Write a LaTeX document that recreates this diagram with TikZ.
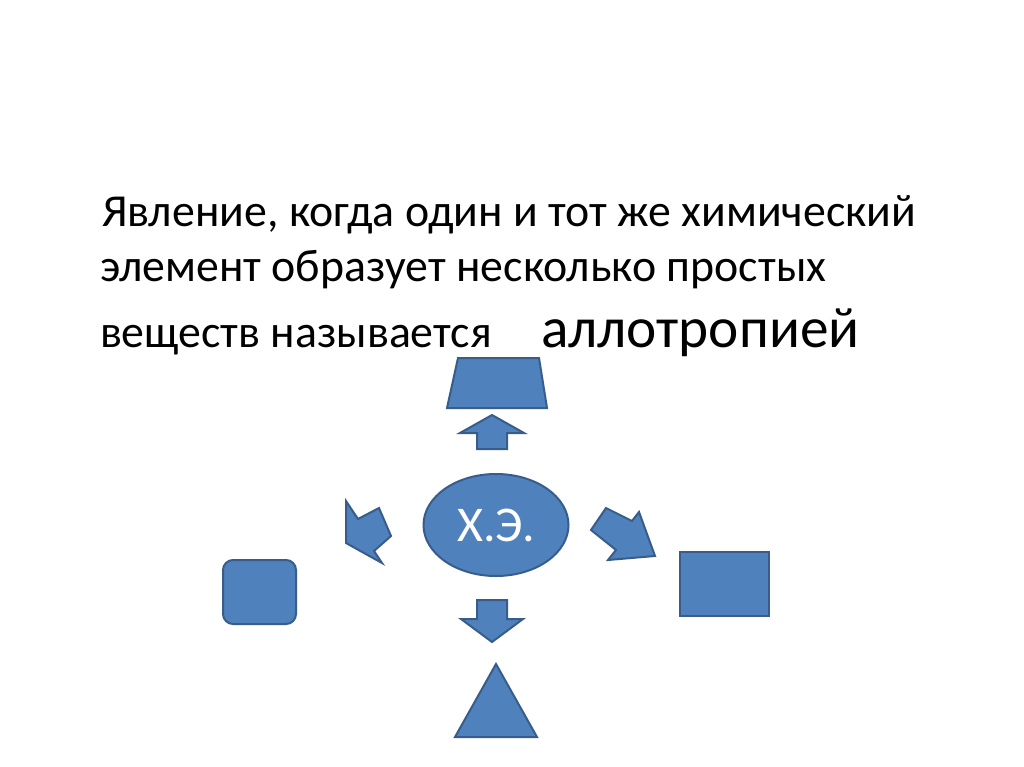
\documentclass[tikz,border=0pt]{standalone}
\usepackage{fontspec}
\setmainfont{Carlito}
\usepackage{tikz}
\usetikzlibrary{shapes.geometric}
\definecolor{xefill}{HTML}{4F81BD}
\definecolor{xeline}{HTML}{385D8A}

\begin{document}
\begin{tikzpicture}[x=1pt,y=-1pt, shp/.style={fill=xefill,draw=xeline,line width=2pt,line join=miter}, txt/.style={anchor=base west,inner sep=0pt,outer sep=0pt,font=\fontsize{45.8}{52}\selectfont}]
\useasboundingbox[fill=white] (0,0) rectangle (1024,767);
% text
\node[txt] (l1) at (102,226) {Явление, когда один и тот же химический}; \node[txt] (l2) at (100,281) {элемент образует несколько простых}; \node[txt] (l3) at (100,347) {веществ называется}; \node[txt,font=\fontsize{57.3}{64}\selectfont] (allo) at (541,347) {аллотропией};
% shapes
\node[shp,ellipse,inner sep=0pt,outer sep=0pt,minimum width=145pt,minimum height=102pt,text=white,font=\fontsize{50}{54}\selectfont] (xe) at (496,525) {Х.Э.};
\node[shp,rounded corners=10pt,inner sep=0pt,minimum width=73pt,minimum height=64pt] (rsq) at (259.5,592) {}; \node[shp,inner sep=0pt,minimum width=89pt,minimum height=64pt] (rect) at (724.5,584) {};
\draw[shp] (458,358) -- (539,358) -- (547,408) -- (447,408) -- cycle; \draw[shp] (496,664) -- (537,737) -- (455,737) -- cycle;
% block arrows
\draw[shp] (492,415) -- (524,433) -- (507,433) -- (507,449) -- (477,449) -- (477,433) -- (460,433) -- cycle; \draw[shp] (492,642) -- (523,619) -- (507,619) -- (507,600) -- (477,600) -- (477,619) -- (461,619) -- cycle;
\draw[shp] (346,543) -- (346,501) -- (358,519) -- (379,508) -- (391,536) -- (374,551) -- (382,563) -- cycle; \draw[shp] (655,556) -- (608,560) -- (616,550) -- (591,530) -- (606,508) -- (632,521) -- (639,512) -- cycle;
\end{tikzpicture}
\end{document}
